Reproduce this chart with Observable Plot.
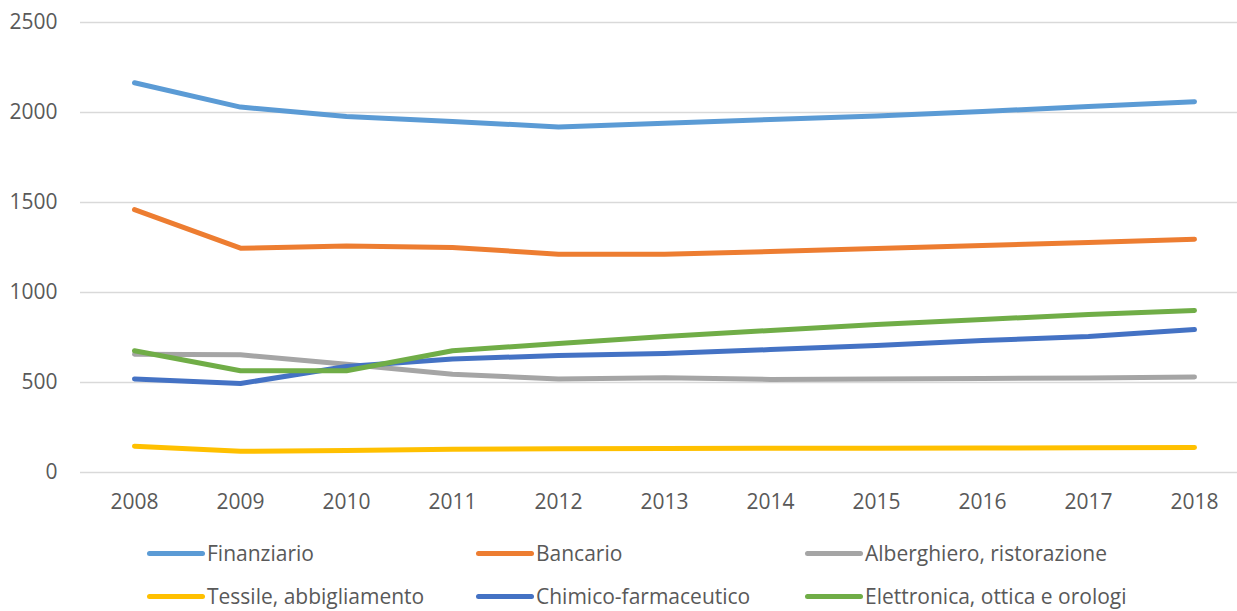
<!DOCTYPE html>
<html>
<head>
<meta charset="utf-8">
<script src="https://cdn.jsdelivr.net/npm/d3@7"></script>
<script src="https://cdn.jsdelivr.net/npm/@observablehq/plot@0.6"></script>
<style>
  html, body { margin: 0; padding: 0; background: #fff; }
  body { width: 1237px; height: 611px; overflow: hidden; font-family: "Open Sans", sans-serif; }
  #legend { position: relative; height: 81px; }
  .item { position: absolute; display: flex; align-items: center; font-size: 21px; line-height: 24px; color: #595959; white-space: nowrap; }
  .sw { width: 58px; height: 5px; border-radius: 3px; margin-right: 2px; }
</style>
</head>
<body>
<div id="chart"></div>
<div id="legend"></div>
<script>
const years = [2008, 2009, 2010, 2011, 2012, 2013, 2014, 2015, 2016, 2017, 2018];
const seriesNames = ["Finanziario", "Bancario", "Alberghiero, ristorazione", "Tessile, abbigliamento", "Chimico-farmaceutico", "Elettronica, ottica e orologi"];
const seriesColors = ["#5B9BD5", "#ED7D31", "#A5A5A5", "#FFC000", "#4472C4", "#70AD47"];
const finanziario = [2165, 2030, 1978, 1950, 1920, 1940, 1961, 1980, 2006, 2033, 2060];
const bancario = [1460, 1246, 1259, 1250, 1213, 1212, 1228, 1244, 1261, 1278, 1296];
const alberghiero = [657, 654, 602, 546, 520, 527, 517, 519, 522, 525, 530];
const tessile = [146, 118, 122, 129, 132, 134, 135, 135, 136, 137, 139];
const chimico = [520, 494, 589, 631, 650, 661, 683, 706, 733, 756, 794];
const elettronica = [676, 565, 565, 676, 717, 756, 789, 822, 850, 878, 900];
const yTicks = [0, 500, 1000, 1500, 2000, 2500];

const allValues = [finanziario, bancario, alberghiero, tessile, chimico, elettronica];
const data = [];
seriesNames.forEach((name, i) => {
  years.forEach((yr, j) => data.push({series: name, year: String(yr), value: allValues[i][j]}));
});

const chart = Plot.plot({
  width: 1237,
  height: 530,
  marginLeft: 80,
  marginRight: 0,
  marginTop: 22,
  marginBottom: 58,
  style: {fontFamily: "'Open Sans', sans-serif", fontSize: "21px", color: "#595959", background: "#fff"},
  x: {type: "point", domain: years.map(String), range: [133, 1195], padding: 0, label: null},
  y: {domain: [0, 2500], ticks: yTicks, label: null},
  color: {domain: seriesNames, range: seriesColors},
  marks: [
    Plot.gridY(yTicks, {stroke: "#d9d9d9", strokeOpacity: 1, strokeWidth: 1.3}),
    Plot.axisY(yTicks, {tickSize: 0, tickPadding: 23, label: null, fill: "#595959", fontSize: 21, tickFormat: d => String(d)}),
    Plot.axisX({tickSize: 0, tickPadding: 22, label: null, fill: "#595959", fontSize: 21}),
    Plot.line(data, {x: "year", y: "value", z: "series", stroke: "series", strokeWidth: 5, strokeLinecap: "round", strokeLinejoin: "round"})
  ]
});
document.getElementById("chart").appendChild(chart);

const legend = document.getElementById("legend");
const lx = [147, 476, 805];
const ly = [23, 66];
seriesNames.forEach((name, i) => {
  const it = document.createElement("div");
  it.className = "item";
  it.style.left = lx[i % 3] + "px";
  it.style.top = (ly[Math.floor(i / 3)] - 12) + "px";
  it.style.height = "24px";
  const sw = document.createElement("span");
  sw.className = "sw";
  sw.style.background = seriesColors[i];
  const tx = document.createElement("span");
  tx.textContent = name;
  it.appendChild(sw);
  it.appendChild(tx);
  legend.appendChild(it);
});
</script>
</body>
</html>
